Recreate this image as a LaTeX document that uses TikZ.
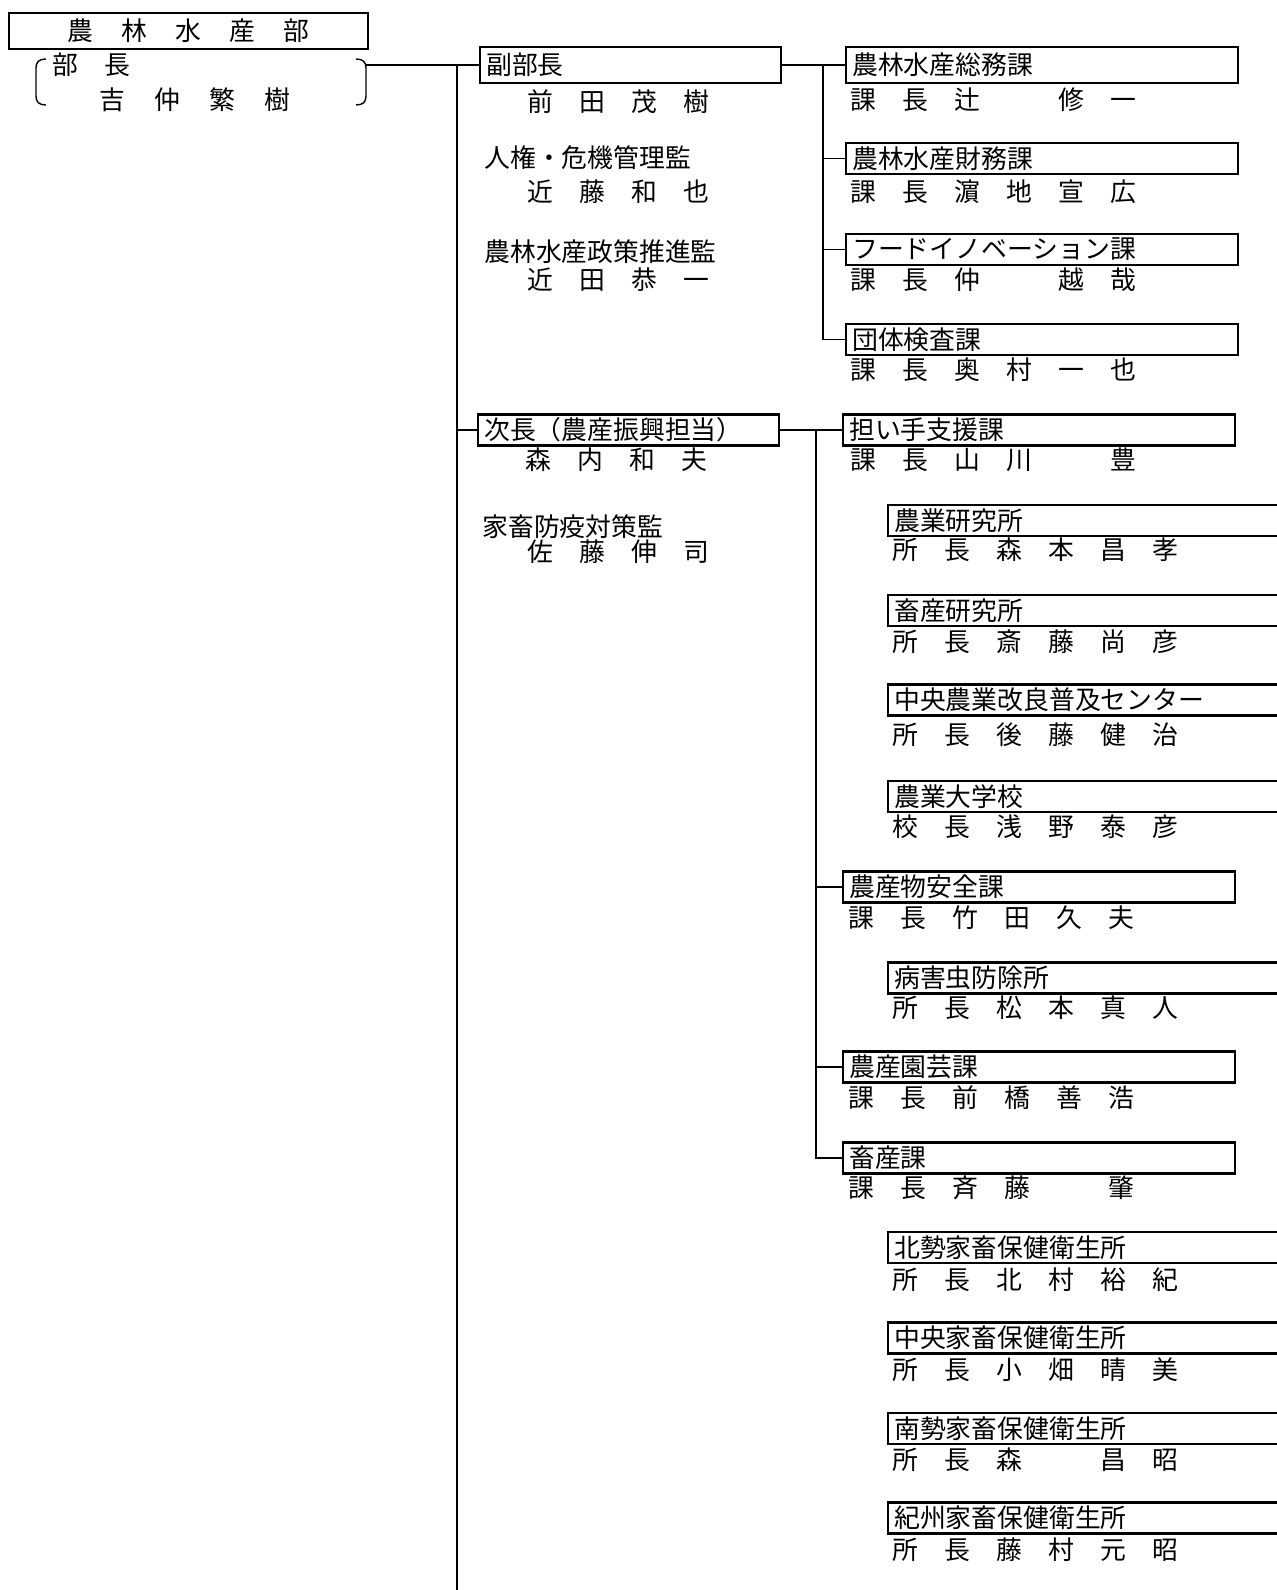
\documentclass[tikz,border=0pt]{standalone}
\usepackage{fontspec}
\setmainfont{Noto Sans CJK JP}
\newcommand{\cellj}[2][1.04cm]{\makebox[#1]{#2}}
\newcommand{\sixslots}[6]{\cellj{#1}\cellj{#2}\cellj{#3}\cellj{#4}\cellj{#5}\cellj{#6}}
\newcommand{\fourslots}[4]{\cellj{#1}\cellj{#2}\cellj{#3}\cellj{#4}}

\begin{document}
\begin{tikzpicture}[x=0.02cm,y=-0.02cm,
  font=\fontsize{14.7}{16}\selectfont,
  unit/.style={draw,line width=1.3pt,anchor=west,inner xsep=3.5pt,inner ysep=0pt,minimum height=0.62cm,align=left},
  vicebox/.style={unit,text width=5.77cm},
  kabox/.style={unit,text width=7.59cm},
  shobox/.style={unit,text width=8.0cm},
  person/.style={anchor=west,inner sep=0pt},
  link/.style={line width=0.8pt}]
\useasboundingbox[fill=white] (0,0) rectangle (1277,1590);
\clip (0,0) rectangle (1277,1590);

\node[draw,line width=1.4pt,minimum width=7.18cm,minimum height=0.72cm,inner sep=0pt] (dept) at (188.5,31) {\cellj[1.08cm]{農}\cellj[1.08cm]{林}\cellj[1.08cm]{水}\cellj[1.08cm]{産}\cellj[1.08cm]{部}};
\node[person] (bucho) at (39,65) {\cellj{部}\cellj{長}};
\node[person] (yoshinaka) at (84.5,100) {\cellj[1.1cm]{吉}\cellj[1.1cm]{仲}\cellj[1.1cm]{繁}\cellj[1.1cm]{樹}};
\draw[link] (46,59) .. controls (39,59) and (36,62) .. (36,68) -- (36,96) .. controls (36,102) and (39,105) .. (46,105);
\draw[link] (356,59) .. controls (363,59) and (366,62) .. (366,68) -- (366,96) .. controls (366,102) and (363,105) .. (356,105);
\coordinate (brk) at (366,65);

\node[vicebox,minimum height=0.72cm] (fukubu) at (479,65) {副部長};
\node[person] (maeda) at (514,102) {\fourslots{前}{田}{茂}{樹}};
\node[person] (jinken) at (484,158) {人権・危機管理監};
\node[person] (kondo) at (514,192) {\fourslots{近}{藤}{和}{也}};
\node[person] (seisaku) at (484,252) {農林水産政策推進監};
\node[person] (chikata) at (514,280) {\fourslots{近}{田}{恭}{一}};
\node[vicebox] (jicho) at (477,430) {次長（農産振興担当）};
\node[person] (moriuchi) at (512,460) {\fourslots{森}{内}{和}{夫}};
\node[person] (boeki) at (482,527) {家畜防疫対策監};
\node[person] (sato) at (514,552) {\fourslots{佐}{藤}{伸}{司}};

\node[kabox,minimum height=0.72cm] (somu) at (845,65) {農林水産総務課};
\node[person] (somu-n) at (837,100) {\sixslots{課}{長}{辻}{}{修}{一}};
\node[kabox] (zaimu) at (845,158.5) {農林水産財務課};
\node[person] (zaimu-n) at (837,192) {\sixslots{課}{長}{濵}{地}{宣}{広}};
\node[kabox] (food) at (845,249.5) {フードイノベーション課};
\node[person] (food-n) at (837,280) {\sixslots{課}{長}{仲}{}{越}{哉}};
\node[kabox] (dantai) at (845,339.5) {団体検査課};
\node[person] (dantai-n) at (837,370) {\sixslots{課}{長}{奥}{村}{一}{也}};

\node[kabox] (ninaite) at (842,430) {担い手支援課};
\node[person] (ninaite-n) at (837,460) {\sixslots{課}{長}{山}{川}{}{豊}};
\node[shobox] (nouken) at (887,520.5) {農業研究所};
\node[person] (nouken-n) at (879,550) {\sixslots{所}{長}{森}{本}{昌}{孝}};
\node[shobox] (chikuken) at (887,610.5) {畜産研究所};
\node[person] (chikuken-n) at (879,642) {\sixslots{所}{長}{斎}{藤}{尚}{彦}};
\node[shobox] (fukyu) at (887,700) {中央農業改良普及センター};
\node[person] (fukyu-n) at (879,735) {\sixslots{所}{長}{後}{藤}{健}{治}};
\node[shobox] (daigaku) at (887,796.5) {農業大学校};
\node[person] (daigaku-n) at (879,827) {\sixslots{校}{長}{浅}{野}{泰}{彦}};
\node[kabox] (anzen) at (842,887) {農産物安全課};
\node[person] (anzen-n) at (835,918) {\sixslots{課}{長}{竹}{田}{久}{夫}};
\node[shobox] (byogai) at (887,978) {病害虫防除所};
\node[person] (byogai-n) at (879,1008) {\sixslots{所}{長}{松}{本}{真}{人}};
\node[kabox] (engei) at (842,1067) {農産園芸課};
\node[person] (engei-n) at (835,1098) {\sixslots{課}{長}{前}{橋}{善}{浩}};
\node[kabox] (chikusan) at (842,1158) {畜産課};
\node[person] (chikusan-n) at (835,1188) {\sixslots{課}{長}{斉}{藤}{}{肇}};
\node[shobox] (hokusei) at (887,1247.5) {北勢家畜保健衛生所};
\node[person] (hokusei-n) at (879,1280) {\sixslots{所}{長}{北}{村}{裕}{紀}};
\node[shobox] (chuo) at (887,1338) {中央家畜保健衛生所};
\node[person] (chuo-n) at (879,1370) {\sixslots{所}{長}{小}{畑}{晴}{美}};
\node[shobox] (nansei) at (887,1428.5) {南勢家畜保健衛生所};
\node[person] (nansei-n) at (879,1460) {\sixslots{所}{長}{森}{}{昌}{昭}};
\node[shobox] (kishu) at (887,1518) {紀州家畜保健衛生所};
\node[person] (kishu-n) at (879,1550) {\sixslots{所}{長}{藤}{村}{元}{昭}};

\coordinate (j0) at (457,65);
\coordinate (j0end) at (457,1600);
\coordinate (j1) at (823,65);
\coordinate (j2) at (816,430);
\draw[link] (brk) -- (fukubu.west);
\draw[link] (j0) -- (j0end);
\draw[link] (j0) |- (jicho.west);
\draw[link] (fukubu.east) -- (somu.west);
\draw[link] (j1) |- (zaimu.west);
\draw[link] (j1) |- (food.west);
\draw[link] (j1) |- (dantai.west);
\draw[link] (jicho.east) -- (ninaite.west);
\draw[link] (j2) |- (anzen.west);
\draw[link] (j2) |- (engei.west);
\draw[link] (j2) |- (chikusan.west);

\end{tikzpicture}
\end{document}
